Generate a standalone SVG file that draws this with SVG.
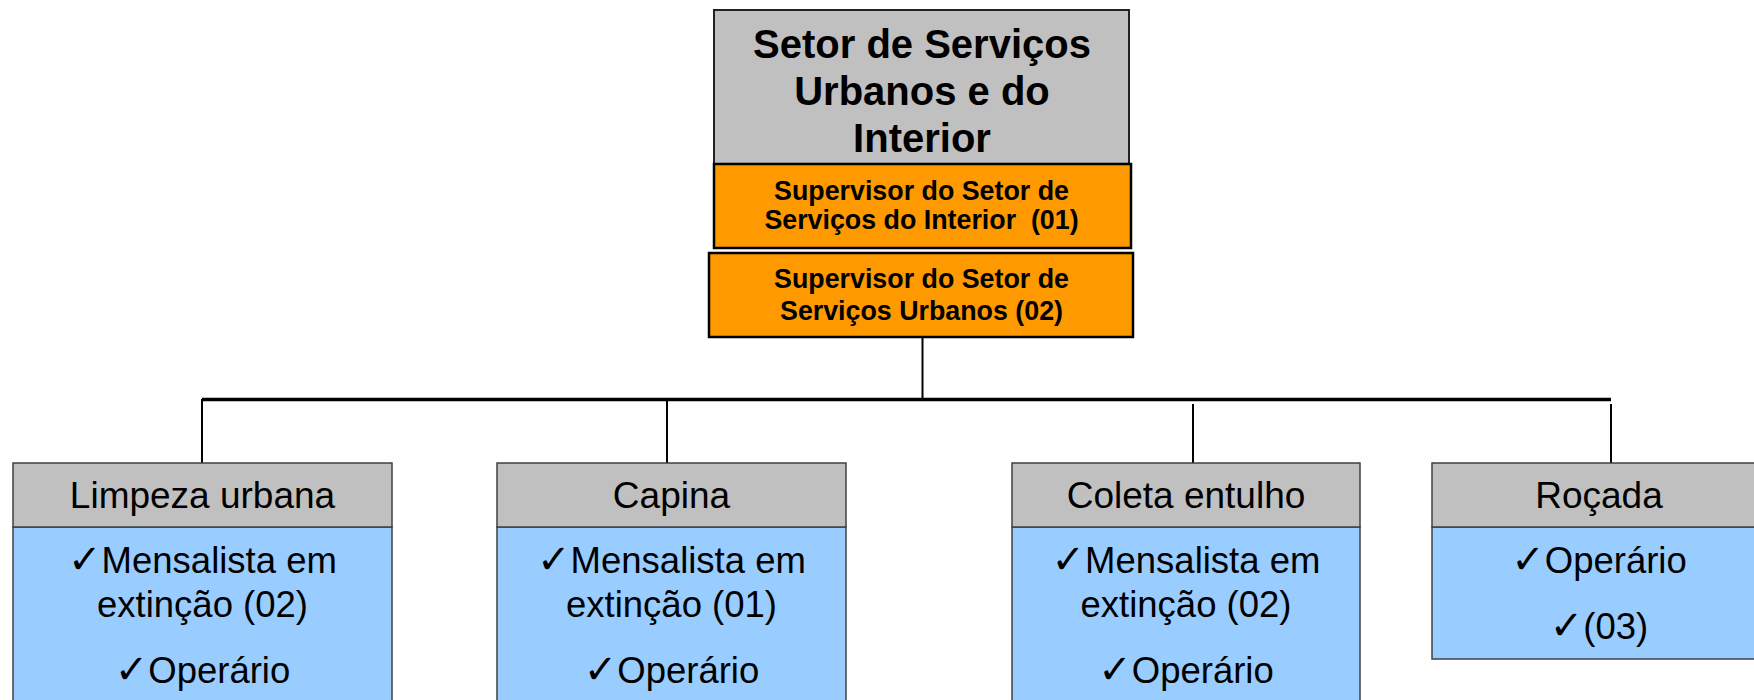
<svg xmlns="http://www.w3.org/2000/svg" width="1754" height="700" viewBox="0 0 1754 700">
<style>
.title{font-family:"Liberation Sans",Arial,sans-serif;font-weight:bold;font-size:40px;fill:#000;text-anchor:middle}
.sup{font-family:"Liberation Sans",Arial,sans-serif;font-weight:bold;font-size:26.8px;fill:#000;text-anchor:middle}
.hdr{font-family:"Liberation Sans",Arial,sans-serif;font-size:37px;fill:#000;text-anchor:middle}
.item{font-family:"Liberation Sans",Arial,sans-serif;font-size:36.5px;fill:#000;text-anchor:middle}
.ck{font-family:"DejaVu Sans",sans-serif;font-size:40px}
.gray{fill:#C0C0C0;stroke:#404040;stroke-width:1.5}
.blue{fill:#99CCFF;stroke:#404040;stroke-width:1.5}
.org{fill:#FF9900;stroke:#000;stroke-width:2.5}
.conn{stroke:#000;stroke-width:2;fill:none}
</style>
<rect width="1754" height="700" fill="#fff"/>
<g id="connectors">
<line class="conn" x1="922.5" y1="337" x2="922.5" y2="399"/>
<line x1="202" y1="399.5" x2="1611" y2="399.5" stroke="#000" stroke-width="3.5"/>
<line class="conn" x1="202" y1="399" x2="202" y2="463"/>
<line class="conn" x1="667" y1="399" x2="667" y2="463"/>
<line class="conn" x1="1193" y1="404" x2="1193" y2="463"/>
<line class="conn" x1="1611" y1="404" x2="1611" y2="463"/>
</g>
<g id="setor">
<rect x="714" y="10" width="415" height="154" fill="#C0C0C0" stroke="#222" stroke-width="2"/>
<text class="title" x="922" y="58">Setor de Serviços</text>
<text class="title" x="922" y="105">Urbanos e do</text>
<text class="title" x="922" y="152">Interior</text>
</g>
<g id="sup-interior">
<rect class="org" x="714" y="164" width="417" height="84"/>
<text class="sup" x="921.5" y="200">Supervisor do Setor de</text>
<text class="sup" x="921.5" y="229" xml:space="preserve">Serviços do Interior  (01)</text>
</g>
<g id="sup-urbanos">
<rect class="org" x="709" y="253" width="424" height="84"/>
<text class="sup" x="921.5" y="288">Supervisor do Setor de</text>
<text class="sup" x="921.5" y="320">Serviços Urbanos (02)</text>
</g>
<g id="limpeza">
<rect class="blue" x="13" y="527" width="379" height="190"/>
<rect class="gray" x="13" y="463" width="379" height="64"/>
<text class="hdr" x="202.5" y="508">Limpeza urbana</text>
<text class="item" x="202.5" y="573"><tspan class="ck">✓</tspan>Mensalista em</text>
<text class="item" x="202.5" y="617">extinção (02)</text>
<text class="item" x="202.5" y="683"><tspan class="ck">✓</tspan>Operário</text>
</g>
<g id="capina">
<rect class="blue" x="497" y="527" width="349" height="190"/>
<rect class="gray" x="497" y="463" width="349" height="64"/>
<text class="hdr" x="671.5" y="508">Capina</text>
<text class="item" x="671.5" y="573"><tspan class="ck">✓</tspan>Mensalista em</text>
<text class="item" x="671.5" y="617">extinção (01)</text>
<text class="item" x="671.5" y="683"><tspan class="ck">✓</tspan>Operário</text>
</g>
<g id="coleta">
<rect class="blue" x="1012" y="527" width="348" height="190"/>
<rect class="gray" x="1012" y="463" width="348" height="64"/>
<text class="hdr" x="1186" y="508">Coleta entulho</text>
<text class="item" x="1186" y="573"><tspan class="ck">✓</tspan>Mensalista em</text>
<text class="item" x="1186" y="617">extinção (02)</text>
<text class="item" x="1186" y="683"><tspan class="ck">✓</tspan>Operário</text>
</g>
<g id="rocada">
<rect class="blue" x="1432" y="527" width="334" height="132"/>
<rect class="gray" x="1432" y="463" width="334" height="64"/>
<text class="hdr" x="1599" y="508">Roçada</text>
<text class="item" x="1599" y="573"><tspan class="ck">✓</tspan>Operário</text>
<text class="item" x="1599" y="639"><tspan class="ck">✓</tspan>(03)</text>
</g>
</svg>
